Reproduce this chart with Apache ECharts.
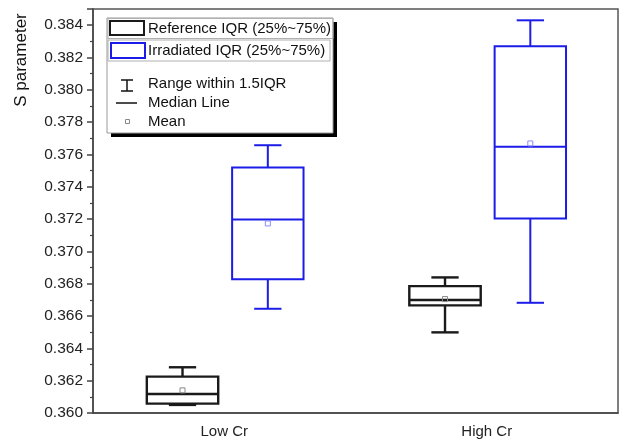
<!DOCTYPE html>
<html>
<head>
<meta charset="utf-8">
<script src="https://cdn.jsdelivr.net/npm/echarts@6/dist/echarts.min.js"></script>
<style>
  html, body { margin: 0; padding: 0; background: #fff; }
  #chart { width: 625px; height: 441px; }
</style>
</head>
<body>
<div id="chart"></div>
<script>
// Categories on the x axis
const categories = ['Low Cr', 'High Cr'];

// Reference samples: whisker low, Q1, median, Q3, whisker high, mean
const refMin    = [0.36050, 0.36499];
const refQ1     = [0.36058, 0.36666];
const refMedian = [0.36118, 0.36699];
const refQ3     = [0.36225, 0.36785];
const refMax    = [0.36283, 0.36839];
const refMean   = [0.36140, 0.36705];

// Irradiated samples
const irrMin    = [0.36645, 0.36682];
const irrQ1     = [0.36827, 0.37204];
const irrMedian = [0.37198, 0.37647];
const irrQ3     = [0.37519, 0.38270];
const irrMax    = [0.37657, 0.38430];
const irrMean   = [0.37173, 0.37668];

// Y axis range and tick step
const yMin = 0.360;
const yMax = 0.385;
const yStep = 0.002;

const FONT = '"Liberation Sans", Arial, sans-serif';

function rows(mins, q1s, meds, q3s, maxs, means) {
  return categories.map((c, i) => [i, mins[i], q1s[i], meds[i], q3s[i], maxs[i], means[i]]);
}

// Draws one box with whiskers, caps, median line and mean marker
function boxRenderer(color, meanColor, offsetFrac, lw) {
  return function (params, api) {
    const cat = api.value(0);
    const band = api.size([1, 0])[0];
    const cx = api.coord([cat, yMin])[0] + band * offsetFrac;
    const y = v => api.coord([cat, v])[1];
    const lo = y(api.value(1)), q1 = y(api.value(2)), med = y(api.value(3));
    const q3 = y(api.value(4)), hi = y(api.value(5)), mean = y(api.value(6));
    const hw = band * 0.136;
    const cw = band * 0.052;
    const st = { stroke: color, lineWidth: lw, fill: null };
    return {
      type: 'group',
      children: [
        { type: 'line', shape: { x1: cx, y1: q3, x2: cx, y2: hi }, style: st },
        { type: 'line', shape: { x1: cx, y1: q1, x2: cx, y2: lo }, style: st },
        { type: 'line', shape: { x1: cx - cw, y1: hi, x2: cx + cw, y2: hi }, style: st },
        { type: 'line', shape: { x1: cx - cw, y1: lo, x2: cx + cw, y2: lo }, style: st },
        { type: 'rect', shape: { x: cx - hw, y: q3, width: 2 * hw, height: q1 - q3 }, style: { stroke: color, lineWidth: lw, fill: '#fff' } },
        { type: 'line', shape: { x1: cx - hw, y1: med, x2: cx + hw, y2: med }, style: st },
        { type: 'rect', shape: { x: cx - 2.5, y: mean - 2.5, width: 5, height: 5 }, style: { stroke: meanColor, lineWidth: 1, fill: null } }
      ]
    };
  };
}

const BLACK = '#1a1a1a';
const BLUE = '#1c1ce8';

const chart = echarts.init(document.getElementById('chart'), null, { renderer: 'canvas' });

const legendText = { fontFamily: FONT, fontSize: 15, fill: '#111', verticalAlign: 'middle' };

chart.setOption({
  animation: false,
  backgroundColor: '#fff',
  grid: {
    left: 93, right: 7, top: 9, bottom: 28,
    show: true, borderColor: '#555', borderWidth: 1.5, backgroundColor: 'transparent'
  },
  xAxis: {
    type: 'category',
    data: categories,
    boundaryGap: true,
    axisLine: { lineStyle: { color: '#444', width: 1.5 } },
    axisTick: { alignWithLabel: true, length: 5, lineStyle: { color: '#444', width: 1.5 } },
    axisLabel: { fontFamily: FONT, fontSize: 15, color: '#222', margin: 11 },
    splitLine: { show: false }
  },
  yAxis: {
    type: 'value',
    min: yMin, max: yMax, interval: yStep,
    axisLine: { show: true, lineStyle: { color: '#444', width: 1.5 } },
    axisTick: { show: true, length: 6, lineStyle: { color: '#444', width: 1.5 } },
    minorTick: { show: true, splitNumber: 2, length: 3, lineStyle: { color: '#444', width: 1.2 } },
    axisLabel: {
      fontFamily: FONT, fontSize: 15.5, color: '#222', margin: 10,
      formatter: v => (Math.abs(Math.round(v / yStep) * yStep - v) < 1e-9 ? v.toFixed(3) : '')
    },
    showMaxLabel: false,
    splitLine: { show: false }
  },
  series: [
    {
      name: 'Reference',
      type: 'custom',
      renderItem: boxRenderer(BLACK, '#888', -0.159, 2.4),
      encode: { x: 0, y: [1, 2, 3, 4, 5, 6] },
      data: rows(refMin, refQ1, refMedian, refQ3, refMax, refMean)
    },
    {
      name: 'Irradiated',
      type: 'custom',
      renderItem: boxRenderer(BLUE, '#8a8aff', 0.166, 2),
      encode: { x: 0, y: [1, 2, 3, 4, 5, 6] },
      data: rows(irrMin, irrQ1, irrMedian, irrQ3, irrMax, irrMean)
    }
  ],
  graphic: [
    // axis title
    {
      type: 'text', x: 21, y: 60, rotation: Math.PI / 2,
      style: { text: 'S parameter', fontFamily: FONT, fontSize: 17, fill: '#111', align: 'center', verticalAlign: 'middle' }
    },
    // legend panel with drop shadow
    { type: 'rect', shape: { x: 111, y: 22, width: 226, height: 115 }, style: { fill: '#000' }, z: 100 },
    { type: 'rect', shape: { x: 107, y: 18, width: 226, height: 115 }, style: { fill: '#fff', stroke: '#999', lineWidth: 1 }, z: 101 },
    { type: 'rect', shape: { x: 108, y: 18.5, width: 225, height: 20 }, style: { fill: null, stroke: '#b0b0b0', lineWidth: 1 }, z: 102 },
    { type: 'rect', shape: { x: 108, y: 40, width: 222, height: 21 }, style: { fill: null, stroke: '#b0b0b0', lineWidth: 1 }, z: 102 },
    { type: 'rect', shape: { x: 110, y: 21, width: 34, height: 14 }, style: { fill: null, stroke: BLACK, lineWidth: 2 }, z: 103 },
    { type: 'text', x: 148, y: 29, style: Object.assign({ text: 'Reference IQR (25%~75%)' }, legendText), z: 103 },
    { type: 'rect', shape: { x: 111, y: 43, width: 34, height: 15 }, style: { fill: null, stroke: BLUE, lineWidth: 2 }, z: 103 },
    { type: 'text', x: 148, y: 51, style: Object.assign({ text: 'Irradiated IQR (25%~75%)' }, legendText), z: 103 },
    { type: 'line', shape: { x1: 127, y1: 80, x2: 127, y2: 91 }, style: { stroke: '#111', lineWidth: 1.5 }, z: 103 },
    { type: 'line', shape: { x1: 121, y1: 80, x2: 133, y2: 80 }, style: { stroke: '#111', lineWidth: 1.5 }, z: 103 },
    { type: 'line', shape: { x1: 121, y1: 91, x2: 133, y2: 91 }, style: { stroke: '#111', lineWidth: 1.5 }, z: 103 },
    { type: 'text', x: 148, y: 84, style: Object.assign({ text: 'Range within 1.5IQR' }, legendText), z: 103 },
    { type: 'line', shape: { x1: 116, y1: 103, x2: 137, y2: 103 }, style: { stroke: '#111', lineWidth: 1.5 }, z: 103 },
    { type: 'text', x: 148, y: 103, style: Object.assign({ text: 'Median Line' }, legendText), z: 103 },
    { type: 'rect', shape: { x: 125.5, y: 119.5, width: 4, height: 4 }, style: { fill: null, stroke: '#888', lineWidth: 1 }, z: 103 },
    { type: 'text', x: 148, y: 122, style: Object.assign({ text: 'Mean' }, legendText), z: 103 }
  ]
});
</script>
</body>
</html>
